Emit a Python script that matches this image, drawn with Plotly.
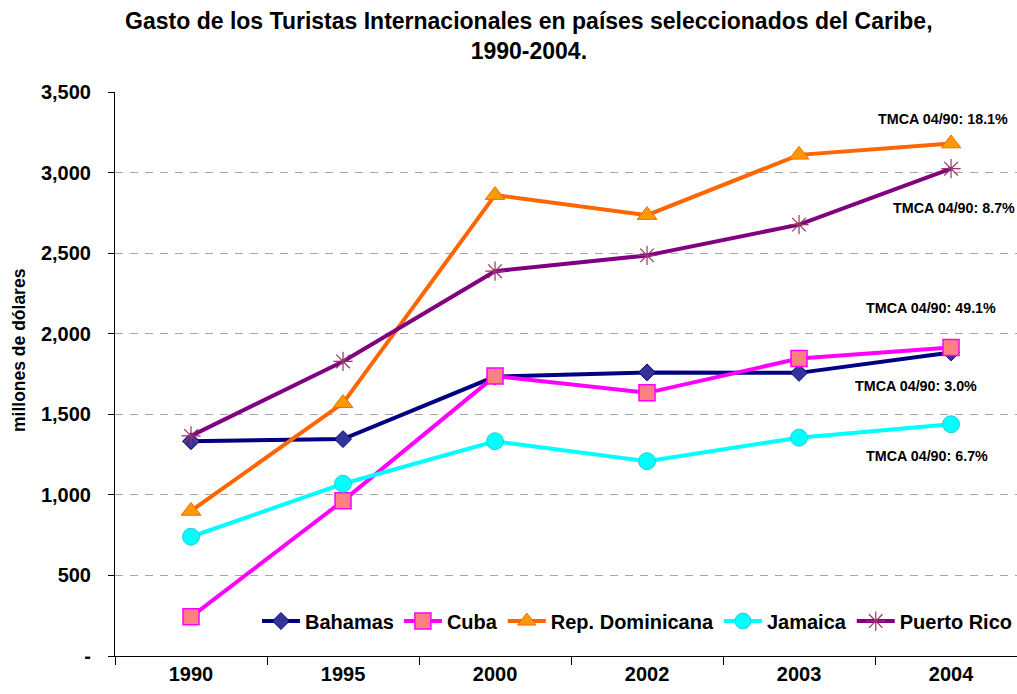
import plotly.graph_objects as go

years = ["1990", "1995", "2000", "2002", "2003", "2004"]
bahamas = [1333, 1346, 1734, 1760, 1757, 1884]
cuba = [243, 963, 1737, 1633, 1846, 1915]
rep_dom = [900, 1569, 2860, 2736, 3110, 3180]
jamaica = [740, 1069, 1333, 1209, 1355, 1438]
puerto_rico = [1366, 1828, 2388, 2486, 2677, 3024]

y_ticks = [0, 500, 1000, 1500, 2000, 2500, 3000, 3500]
y_tick_text = ["-", "500", "1,000", "1,500", "2,000", "2,500", "3,000", "3,500"]

tmca_labels = ["TMCA 04/90: 18.1%", "TMCA 04/90: 8.7%", "TMCA 04/90: 49.1%",
               "TMCA 04/90: 3.0%", "TMCA 04/90: 6.7%"]

FONT = "Arial, Liberation Sans, sans-serif"

series = [
    ("Bahamas", bahamas, "#000080", dict(symbol="diamond", size=13, color="#333399",
                                         line=dict(color="#000080", width=1))),
    ("Cuba", cuba, "#FF00FF", dict(symbol="square", size=16, color="#FF8080",
                                   line=dict(color="#FF00FF", width=1.5))),
    ("Rep. Dominicana", rep_dom, "#FF6600", dict(symbol="triangle-up", size=17, color="#FF9900",
                                                 line=dict(color="#FF6600", width=1))),
    ("Jamaica", jamaica, "#00FFFF", dict(symbol="circle", size=17, color="#00FFFF",
                                         line=dict(color="#33CCCC", width=1))),
    ("Puerto Rico", puerto_rico, "#800080", dict(symbol="asterisk-open", size=16, color="#993366",
                                                 line=dict(color="#993366", width=1.2))),
]

fig = go.Figure()
for name, vals, col, mk in series:
    fig.add_trace(go.Scatter(x=years, y=vals, name=name, mode="lines+markers",
                             line=dict(color=col, width=4), marker=mk))

ann_pos = [(4.947, 3333), (5.02, 2780), (4.868, 2160), (4.77, 1676), (4.842, 1241)]
for (xp, yp), txt in zip(ann_pos, tmca_labels):
    fig.add_annotation(x=xp, y=yp, xref="x", yref="y", text="<b>" + txt + "</b>",
                       showarrow=False,
                       font=dict(family=FONT, size=14.3, color="black"),
                       xanchor="center", yanchor="middle")

# y-axis title as rotated annotation
fig.add_annotation(x=-0.1064, y=0.5426, xref="paper", yref="paper",
                   text="<b>millones de dólares</b>", textangle=-90, showarrow=False,
                   font=dict(family=FONT, size=17.5, color="black"),
                   xanchor="center", yanchor="middle")

fig.update_layout(
    width=1017, height=694,
    paper_bgcolor="white", plot_bgcolor="white",
    margin=dict(l=115, r=0, t=92, b=38, autoexpand=False),
    title=dict(text="<b>Gasto de los Turistas Internacionales en países seleccionados del Caribe,<br>1990-2004.</b>",
               x=0.52, xanchor="center", y=1 - 29 / 694, yanchor="top",
               font=dict(family=FONT, size=23, color="black")),
    font=dict(family=FONT, color="black"),
    showlegend=True,
    legend=dict(orientation="h", x=0.1574, xanchor="left", y=0.062, yanchor="middle",
                font=dict(family=FONT, size=20, color="black", weight="bold"),
                bgcolor="rgba(255,255,255,0)", itemwidth=38, tracegroupgap=0),
    xaxis=dict(type="category", range=[-0.5, 5.434], showline=True, linecolor="black",
               linewidth=1, ticks="outside", ticklen=8, tickcolor="black",
               tickson="boundaries", showgrid=False, zeroline=False, automargin=False,
               tickfont=dict(family=FONT, size=20, color="black", weight="bold")),
    yaxis=dict(range=[0, 3500], tickvals=y_ticks, ticktext=y_tick_text,
               showline=True, linecolor="black", linewidth=1, ticks="outside",
               ticklen=6, tickcolor="black", ticklabelstandoff=13,
               showgrid=True, gridcolor="#A6A6A6", griddash="8px,7px", gridwidth=1,
               zeroline=False, automargin=False,
               tickfont=dict(family=FONT, size=20, color="black", weight="bold")),
)

fig.write_html("out.html", config={"displayModeBar": False},
               post_script="document.body.style.margin='0';document.body.style.overflow='hidden';")
